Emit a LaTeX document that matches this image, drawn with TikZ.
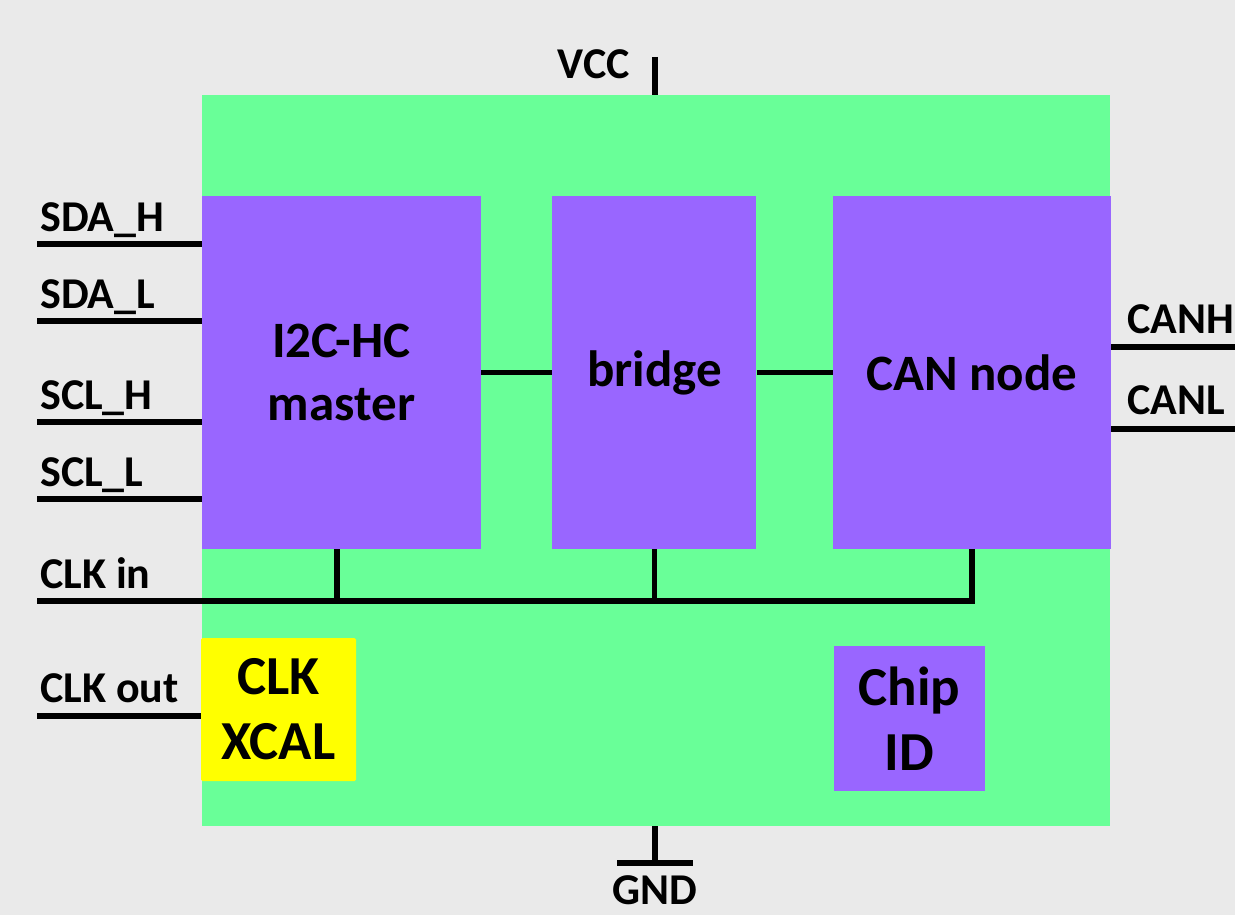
\documentclass[tikz,border=0pt]{standalone}
\usepackage{fontspec}
\setmainfont{Carlito}
\usetikzlibrary{positioning}
\definecolor{chipgreen}{HTML}{69FF98}
\definecolor{blockpurple}{HTML}{9966FF}
\definecolor{xcalyellow}{HTML}{FFFF00}
\definecolor{pagegray}{HTML}{EAEAEA}
\begin{document}
\begin{tikzpicture}[
    x=1pt, y=-1pt,
    node distance=71pt,
    block/.style={rectangle, fill=blockpurple, inner sep=0pt, minimum height=353pt, align=center, font=\fontsize{51}{63}\selectfont\bfseries},
    smallblock/.style={rectangle, inner sep=0pt, align=center, font=\fontsize{55}{65}\selectfont\bfseries},
    wire/.style={line width=5.5pt},
    pinlabel/.style={inner sep=0pt, font=\fontsize{44}{46}\selectfont\bfseries}
]
\fill[pagegray] (0,0) rectangle (1235,915);
\useasboundingbox (0,0) rectangle (1235,915);

% chip and blocks
\node[fill=chipgreen, inner sep=0pt, minimum width=908pt, minimum height=731pt] (chip) at (656,460.5) {};
\node[block, minimum width=279pt] (i2c) at (341.5,372.5) {I2C-HC\\master};
\node[block, minimum width=204pt, right=71pt of i2c] (bridge) {bridge};
\node[block, minimum width=278pt, right=76pt of bridge] (can) {CAN node};
\node[smallblock, fill=xcalyellow, rounded corners=1.5pt, minimum width=155pt, minimum height=143pt] (xcal) at (278.5,709.5) {CLK\\XCAL};
\node[smallblock, fill=blockpurple, minimum width=151pt, minimum height=145pt] (chipid) at (909.5,718.5) {Chip\\ID};

% pin ends
\coordinate (sdah) at (37,244);
\coordinate (sdal) at (37,321);
\coordinate (sclh) at (37,422);
\coordinate (scll) at (37,499);
\coordinate (clkin) at (37,601);
\coordinate (clkout) at (37,716);
\coordinate (canh) at (1235,347);
\coordinate (canl) at (1235,429);
\coordinate (vcc) at (655,57);
\coordinate (gnd) at (655,863);
\coordinate (gndl) at (617,863);
\coordinate (gndr) at (693,863);

% labels
\node[pinlabel, anchor=base west] (sdahlbl) at (40,231) {SDA\_H};
\node[pinlabel, anchor=base west] (sdallbl) at (40,308) {SDA\_L};
\node[pinlabel, anchor=base west] (sclhlbl) at (40,409) {SCL\_H};
\node[pinlabel, anchor=base west] (sclllbl) at (40,486) {SCL\_L};
\node[pinlabel, anchor=base west] (clkinlbl) at (40,588) {CLK in};
\node[pinlabel, anchor=base west] (clkoutlbl) at (40,702) {CLK out};
\node[pinlabel, anchor=base west] (canhlbl) at (1127,333) {CANH};
\node[pinlabel, anchor=base west] (canllbl) at (1127,414) {CANL};
\node[pinlabel, anchor=base east] (vcclbl) at (630,79) {VCC};
\node[pinlabel, anchor=base] (gndlbl) at (655,904) {GND};

% wires
\draw[wire] (sdah) -- (sdah -| i2c.west);
\draw[wire] (sdal) -- (sdal -| i2c.west);
\draw[wire] (sclh) -- (sclh -| i2c.west);
\draw[wire] (scll) -- (scll -| i2c.west);
\draw[wire] (clkout) -- (clkout -| xcal.west);
\draw[wire] (canh) -- (canh -| can.east);
\draw[wire] (canl) -- (canl -| can.east);
\draw[wire] (i2c) -- (bridge);
\draw[wire] (bridge) -- (can);
\draw[wire] (clkin) -- (clkin -| can.south) -- (can.south);
\draw[wire] ([xshift=-4.5pt]i2c.south) -- ([xshift=-4.5pt]i2c.south |- clkin);
\draw[wire] (bridge.south) -- (bridge.south |- clkin);
\draw[wire] (vcc) -- (vcc |- chip.north);
\draw[wire] (gnd |- chip.south) -- (gnd);
\draw[wire] (gndl) -- (gndr);
\end{tikzpicture}
\end{document}
